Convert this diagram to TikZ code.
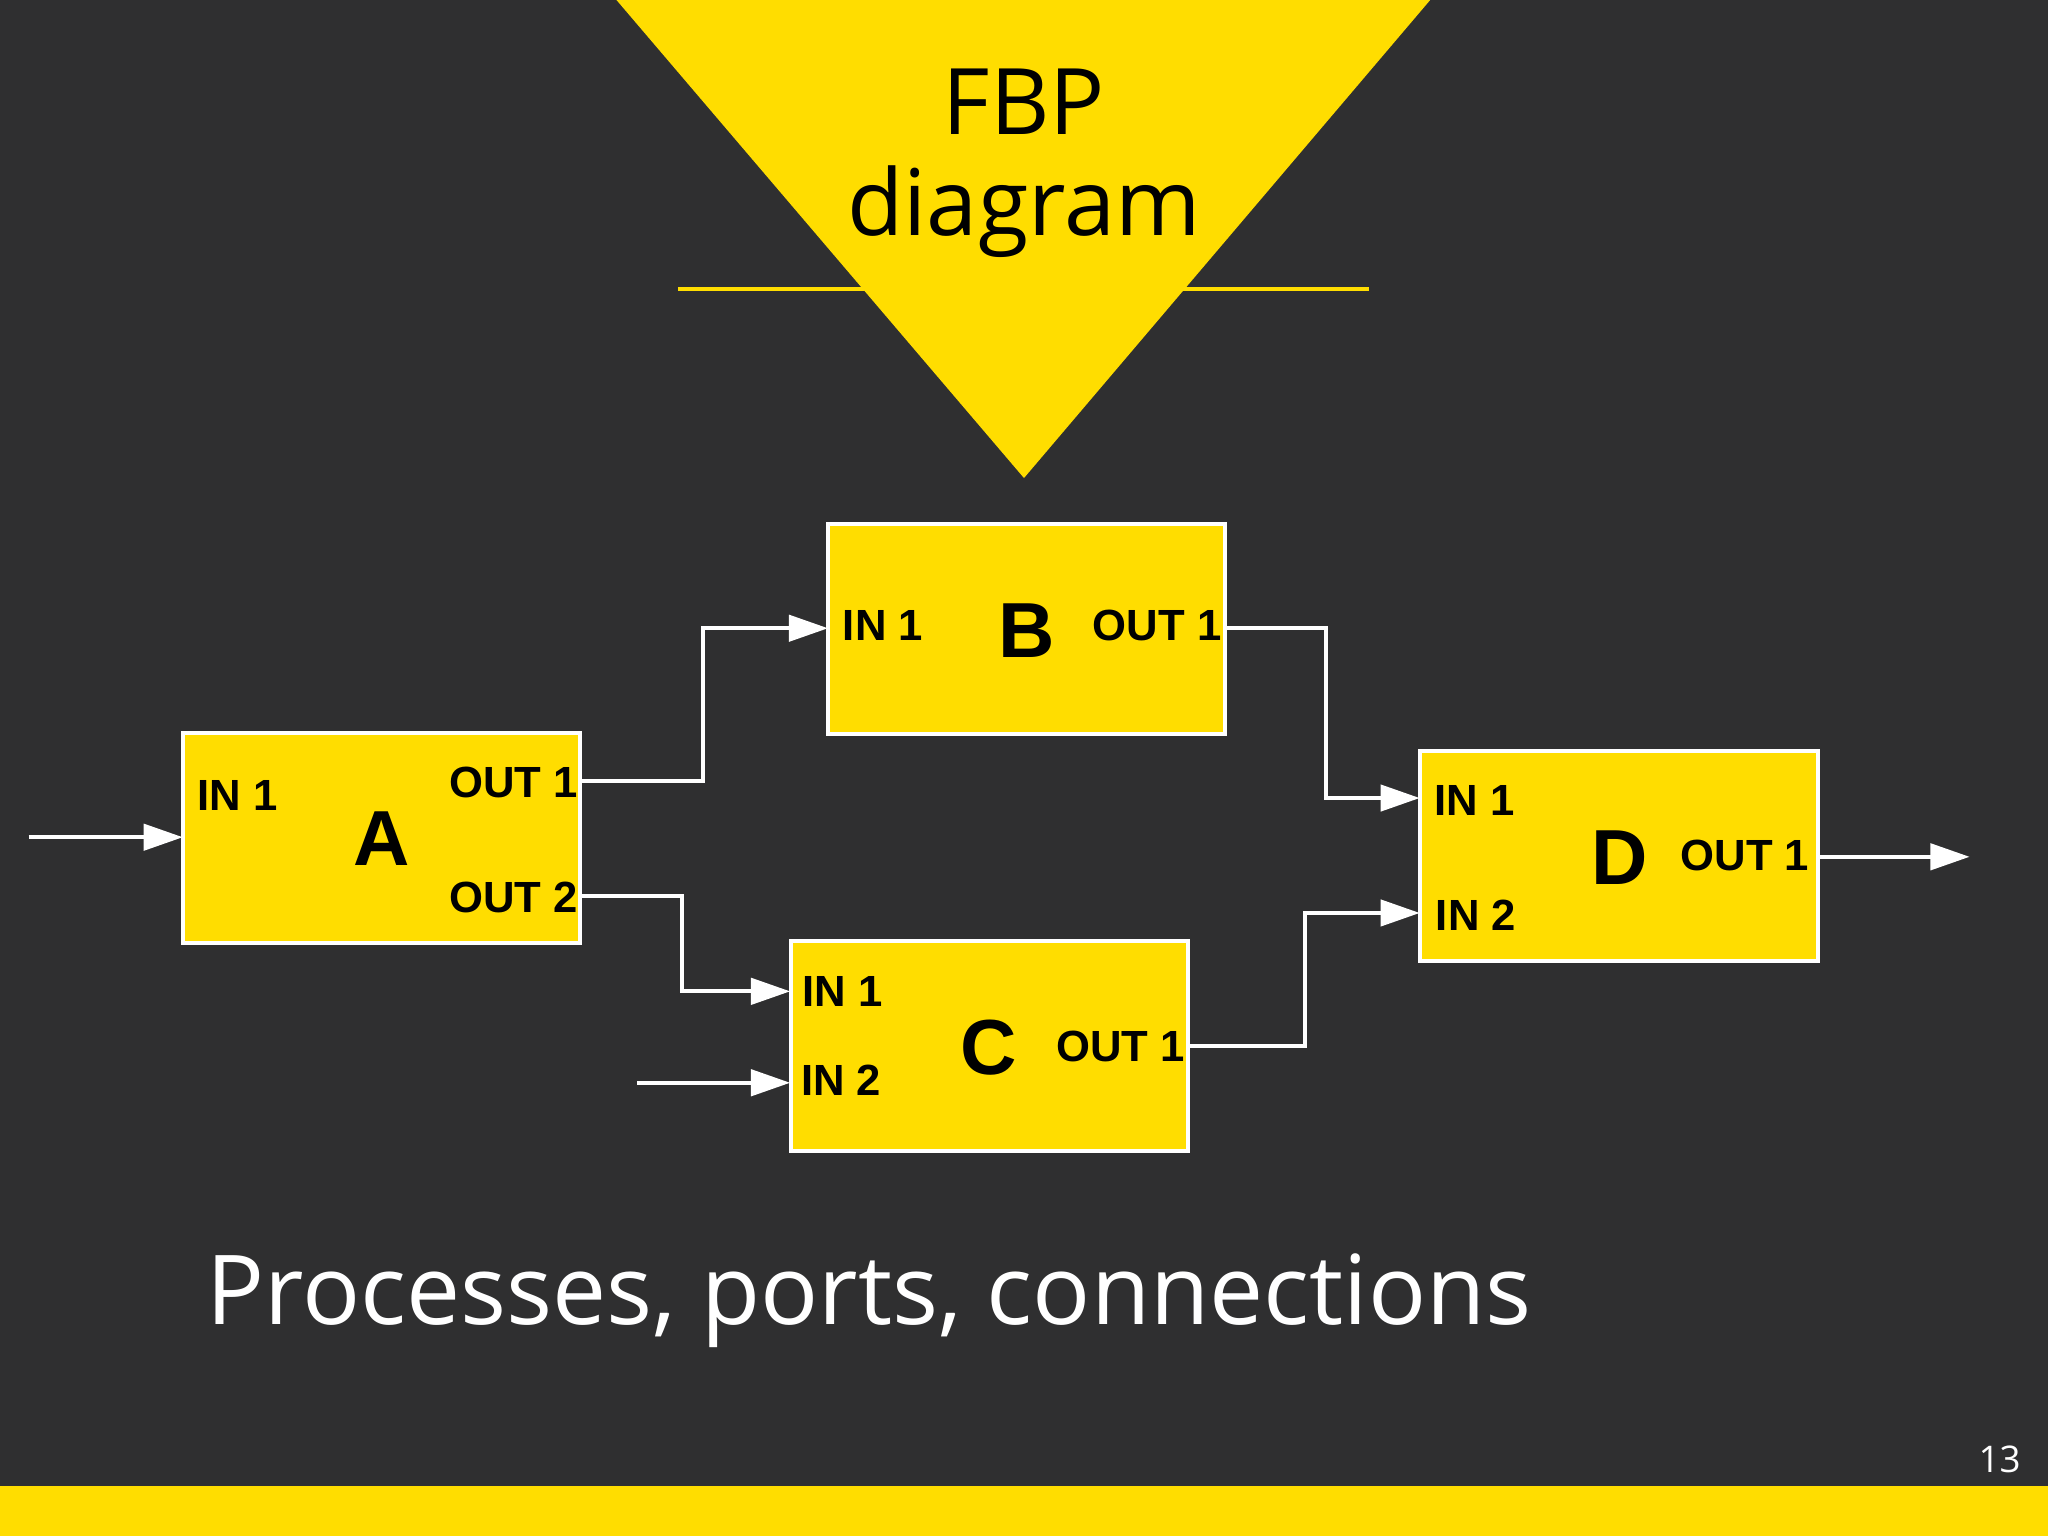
\documentclass[tikz,border=0pt]{standalone}
\usepackage{fontspec}
\setmainfont{Open Sans}
\newfontfamily\arl{Liberation Sans}
\usetikzlibrary{arrows.meta}
\definecolor{bg}{HTML}{2F2F30}
\definecolor{yel}{HTML}{FFDD00}
\begin{document}
\begin{tikzpicture}[x=0.01cm,y=-0.01cm,
  box/.style={draw=white,fill=yel,line width=0.9pt,inner sep=0,minimum width=3.04cm,minimum height=1.61cm},
  port/.style={font=\arl\bfseries\fontsize{9.5}{11}\selectfont,text=black},
  big/.style={font=\arl\bfseries\fontsize{17}{20}\selectfont,text=black},
  con/.style={draw=white,line width=0.9pt,-{Triangle[length=0.3cm,width=0.2cm]}}]
\fill[bg] (0,0) rectangle (1568,1176);
\useasboundingbox (0,0) rectangle (1568,1176);
\fill[yel] (0,1138) rectangle (1568,1176);
\draw[yel,line width=0.9pt] (519,221) -- (1048,221);
\fill[yel] (472,0) -- (1095,0) -- (784,366) -- cycle;
\node[font=\fontsize{20}{24}\selectfont,align=center,text=black] (t) at (784,125) {FBP\\[-2pt]diagram};
\node[font=\fontsize{21}{25}\selectfont,text=white,anchor=base west] (cap) at (146,1014) {Processes, ports, connections};
\node[font=\fontsize{8}{10}\selectfont,text=white] (pg) at (1531,1117) {13};
\node[box] (A) at (292,641.5) {};
\node[box] (B) at (786,481.5) {};
\node[box] (C) at (757.5,801) {};
\node[box] (D) at (1239.5,655.5) {};
\node[port] at (182,609) {IN 1};
\node[big] at (292,642) {A};
\node[port] at (393,599) {OUT 1};
\node[port] at (393,687) {OUT 2};
\node[port] at (676,479) {IN 1};
\node[big] at (786,483) {B};
\node[port] at (886,479) {OUT 1};
\node[port] at (645,759) {IN 1};
\node[port] at (644,827) {IN 2};
\node[big] at (757,802) {C};
\node[port] at (858,801) {OUT 1};
\node[port] at (1129,613) {IN 1};
\node[port] at (1130,701) {IN 2};
\node[big] at (1240,657) {D};
\node[port] at (1336,655) {OUT 1};
\coordinate (inA) at (22,641); \coordinate (Ai) at (140,641);
\coordinate (Ao1) at (444,598); \coordinate (Ao2) at (444,686);
\coordinate (Bi) at (634,481); \coordinate (Bo) at (938,481);
\coordinate (Ci1) at (605,759); \coordinate (Ci2) at (605,829); \coordinate (inC) at (488,829);
\coordinate (Co) at (910,801);
\coordinate (Di1) at (1087,611); \coordinate (Di2) at (1087,699);
\coordinate (Do) at (1392,656); \coordinate (outD) at (1508,656);
\draw[con] (inA) -- (Ai);
\draw[con] (Ao1) -- (538,598) |- (Bi);
\draw[con] (Ao2) -- (522,686) |- (Ci1);
\draw[con] (inC) -- (Ci2);
\draw[con] (Co) -- (999,801) |- (Di2);
\draw[con] (Bo) -- (1015,481) |- (Di1);
\draw[con] (Do) -- (outD);
\end{tikzpicture}
\end{document}
